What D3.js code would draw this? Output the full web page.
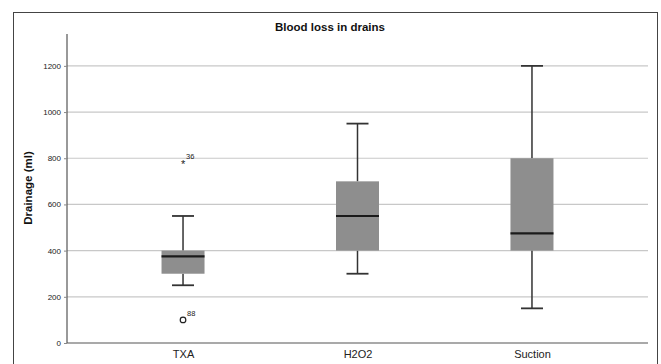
<!DOCTYPE html>
<html><head><meta charset="utf-8">
<script src="https://cdn.jsdelivr.net/npm/d3@7"></script>
<style>body{margin:0;background:#fff}svg{display:block;font-family:Arial,"Liberation Sans",sans-serif}</style>
</head><body><svg id="c" width="661" height="364"></svg>
<script>
const categories = ["TXA", "H2O2", "Suction"];
const whiskerLow = [250, 300, 150];
const q1 = [300, 400, 400];
const medians = [375, 550, 475];
const q3 = [400, 700, 800];
const whiskerHigh = [550, 950, 1200];
const outlierCircles = [{cat: "TXA", value: 100, label: "88"}];
const extremeStars = [{cat: "TXA", value: 780, label: "36"}];
const yTicks = [0, 200, 400, 600, 800, 1000, 1200];
const title = "Blood loss in drains";
const yLabel = "Drainage (ml)";

const svg = d3.select("#c");
const L = 67, R = 648, T = 34, B = 343;
const y = d3.scaleLinear().domain([0, 1338]).range([B, T]);
const x = d3.scalePoint().domain(categories).range([L, R]).padding(0.665);

// outer frame
svg.append("rect").attr("x", 13.5).attr("y", 12.5).attr("width", 644).attr("height", 360)
  .attr("fill", "none").attr("stroke", "#444").attr("stroke-width", 1);

svg.append("text").attr("x", 330).attr("y", 31).attr("text-anchor", "middle")
  .attr("font-size", 11.5).attr("font-weight", "bold").attr("fill", "#111").text(title);

// grid
svg.append("g").selectAll("line").data(yTicks.filter(d => d > 0)).join("line")
  .attr("x1", L).attr("x2", R).attr("y1", d => y(d)).attr("y2", d => y(d))
  .attr("stroke", "#c8c8c8").attr("stroke-width", 1.2);

// y axis
const ya = svg.append("g").attr("transform", `translate(${L},0)`)
  .call(d3.axisLeft(y).tickValues(yTicks).tickFormat(d3.format("d")).tickSize(3).tickPadding(3));
ya.select(".domain").attr("d", `M0,${T}V${B}`).attr("stroke", "#555").attr("stroke-width", 1.2);
ya.selectAll(".tick line").attr("stroke", "#888");
ya.selectAll(".tick text").attr("font-size", 8).attr("fill", "#222").attr("font-family", "Arial,'Liberation Sans',sans-serif");

// x axis
const xa = svg.append("g").attr("transform", `translate(0,${B})`)
  .call(d3.axisBottom(x).tickSize(0).tickPadding(7));
xa.select(".domain").attr("d", `M${L},0H${R}`).attr("stroke", "#555").attr("stroke-width", 1.2);
xa.selectAll(".tick text").attr("font-size", 11).attr("fill", "#222").attr("font-family", "Arial,'Liberation Sans',sans-serif");

svg.append("text").attr("transform", "translate(32,188) rotate(-90)").attr("text-anchor", "middle")
  .attr("font-size", 11.5).attr("font-weight", "bold").attr("fill", "#111").text(yLabel);

const bw = 43, cw = 22;
const g = svg.append("g");
categories.forEach((c, i) => {
  const cx = x(c);
  const st = "#333";
  g.append("line").attr("x1", cx).attr("x2", cx).attr("y1", y(whiskerHigh[i])).attr("y2", y(q3[i])).attr("stroke", st).attr("stroke-width", 1.5);
  g.append("line").attr("x1", cx).attr("x2", cx).attr("y1", y(q1[i])).attr("y2", y(whiskerLow[i])).attr("stroke", st).attr("stroke-width", 1.5);
  g.append("line").attr("x1", cx - cw/2).attr("x2", cx + cw/2).attr("y1", y(whiskerHigh[i])).attr("y2", y(whiskerHigh[i])).attr("stroke", st).attr("stroke-width", 1.8);
  g.append("line").attr("x1", cx - cw/2).attr("x2", cx + cw/2).attr("y1", y(whiskerLow[i])).attr("y2", y(whiskerLow[i])).attr("stroke", st).attr("stroke-width", 1.8);
  g.append("rect").attr("x", cx - bw/2).attr("y", y(q3[i])).attr("width", bw).attr("height", y(q1[i]) - y(q3[i]))
    .attr("fill", "#8e8e8e");
  g.append("line").attr("x1", cx - bw/2).attr("x2", cx + bw/2).attr("y1", y(medians[i])).attr("y2", y(medians[i])).attr("stroke", "#1a1a1a").attr("stroke-width", 2.2);
});

outlierCircles.forEach(o => {
  g.append("circle").attr("cx", x(o.cat)).attr("cy", y(o.value)).attr("r", 2.8).attr("fill", "none").attr("stroke", "#222").attr("stroke-width", 1.2);
  g.append("text").attr("x", x(o.cat) + 4).attr("y", y(o.value) - 4).attr("font-size", 7.5).attr("fill", "#222").text(o.label);
});
extremeStars.forEach(o => {
  g.append("text").attr("x", x(o.cat)).attr("y", y(o.value) + 5).attr("text-anchor", "middle").attr("font-size", 11).attr("fill", "#222").text("*");
  g.append("text").attr("x", x(o.cat) + 3).attr("y", y(o.value) - 4).attr("font-size", 7.5).attr("fill", "#222").text(o.label);
});
</script></body></html>
